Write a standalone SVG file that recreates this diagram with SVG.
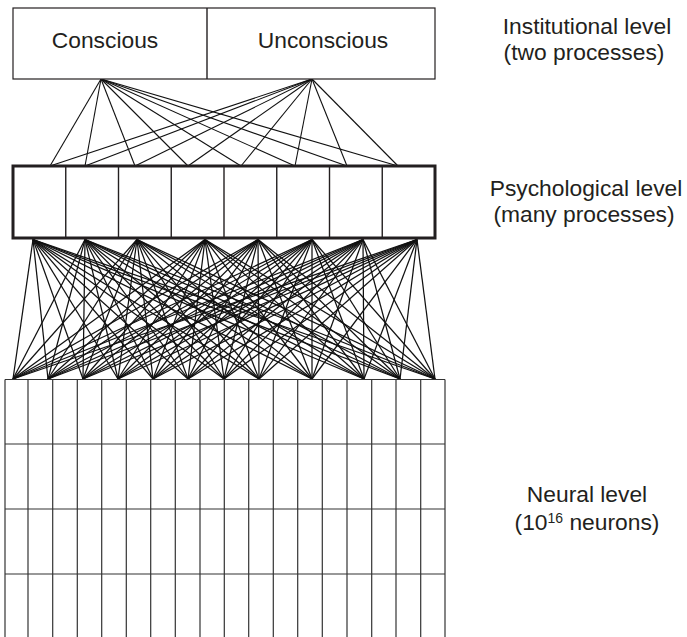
<svg xmlns="http://www.w3.org/2000/svg" width="687" height="637" viewBox="0 0 687 637">
<style>
text{font-family:"Liberation Sans",Arial,Helvetica,sans-serif;font-size:22.8px;fill:#231f20}
.lbl{text-anchor:middle}
.box{fill:#fff;stroke:#231f20;stroke-width:1.2}
.thick{fill:#fff;stroke:#231f20;stroke-width:3}
.div{stroke:#231f20;stroke-width:1.4}
.grid line{stroke:#333;stroke-width:1.2}
.conn line{stroke:#111;stroke-width:1.1}
.conn .low line{stroke-width:1.25}
</style>
<rect width="687" height="637" fill="#fff"/>

<g id="connectors" class="conn">
<g class="up">
<line x1="101" y1="79" x2="50" y2="166"/><line x1="101" y1="79" x2="85" y2="166"/><line x1="101" y1="79" x2="135" y2="166"/><line x1="101" y1="79" x2="188" y2="166"/><line x1="101" y1="79" x2="241" y2="166"/><line x1="101" y1="79" x2="295" y2="166"/><line x1="101" y1="79" x2="347" y2="166"/><line x1="101" y1="79" x2="398" y2="166"/>
<line x1="312" y1="79" x2="50" y2="166"/><line x1="312" y1="79" x2="85" y2="166"/><line x1="312" y1="79" x2="135" y2="166"/><line x1="312" y1="79" x2="188" y2="166"/><line x1="312" y1="79" x2="241" y2="166"/><line x1="312" y1="79" x2="295" y2="166"/><line x1="312" y1="79" x2="347" y2="166"/><line x1="312" y1="79" x2="398" y2="166"/>
</g>
<g class="low">
<line x1="33" y1="239.5" x2="13" y2="379"/><line x1="33" y1="239.5" x2="48" y2="379"/><line x1="33" y1="239.5" x2="83" y2="379"/><line x1="33" y1="239.5" x2="118" y2="379"/><line x1="33" y1="239.5" x2="153" y2="379"/><line x1="33" y1="239.5" x2="188" y2="379"/><line x1="33" y1="239.5" x2="224" y2="379"/><line x1="33" y1="239.5" x2="259" y2="379"/><line x1="33" y1="239.5" x2="312" y2="379"/><line x1="33" y1="239.5" x2="364" y2="379"/><line x1="33" y1="239.5" x2="400" y2="379"/><line x1="33" y1="239.5" x2="435" y2="379"/>
<line x1="85" y1="239.5" x2="13" y2="379"/><line x1="85" y1="239.5" x2="48" y2="379"/><line x1="85" y1="239.5" x2="83" y2="379"/><line x1="85" y1="239.5" x2="118" y2="379"/><line x1="85" y1="239.5" x2="153" y2="379"/><line x1="85" y1="239.5" x2="188" y2="379"/><line x1="85" y1="239.5" x2="224" y2="379"/><line x1="85" y1="239.5" x2="259" y2="379"/><line x1="85" y1="239.5" x2="312" y2="379"/><line x1="85" y1="239.5" x2="364" y2="379"/><line x1="85" y1="239.5" x2="400" y2="379"/><line x1="85" y1="239.5" x2="435" y2="379"/>
<line x1="137" y1="239.5" x2="13" y2="379"/><line x1="137" y1="239.5" x2="48" y2="379"/><line x1="137" y1="239.5" x2="83" y2="379"/><line x1="137" y1="239.5" x2="118" y2="379"/><line x1="137" y1="239.5" x2="153" y2="379"/><line x1="137" y1="239.5" x2="188" y2="379"/><line x1="137" y1="239.5" x2="224" y2="379"/><line x1="137" y1="239.5" x2="259" y2="379"/><line x1="137" y1="239.5" x2="312" y2="379"/><line x1="137" y1="239.5" x2="364" y2="379"/><line x1="137" y1="239.5" x2="400" y2="379"/><line x1="137" y1="239.5" x2="435" y2="379"/>
<line x1="205" y1="239.5" x2="13" y2="379"/><line x1="205" y1="239.5" x2="48" y2="379"/><line x1="205" y1="239.5" x2="83" y2="379"/><line x1="205" y1="239.5" x2="118" y2="379"/><line x1="205" y1="239.5" x2="153" y2="379"/><line x1="205" y1="239.5" x2="188" y2="379"/><line x1="205" y1="239.5" x2="224" y2="379"/><line x1="205" y1="239.5" x2="259" y2="379"/><line x1="205" y1="239.5" x2="312" y2="379"/><line x1="205" y1="239.5" x2="364" y2="379"/><line x1="205" y1="239.5" x2="400" y2="379"/><line x1="205" y1="239.5" x2="435" y2="379"/>
<line x1="258" y1="239.5" x2="13" y2="379"/><line x1="258" y1="239.5" x2="48" y2="379"/><line x1="258" y1="239.5" x2="83" y2="379"/><line x1="258" y1="239.5" x2="118" y2="379"/><line x1="258" y1="239.5" x2="153" y2="379"/><line x1="258" y1="239.5" x2="188" y2="379"/><line x1="258" y1="239.5" x2="224" y2="379"/><line x1="258" y1="239.5" x2="259" y2="379"/><line x1="258" y1="239.5" x2="312" y2="379"/><line x1="258" y1="239.5" x2="364" y2="379"/><line x1="258" y1="239.5" x2="400" y2="379"/><line x1="258" y1="239.5" x2="435" y2="379"/>
<line x1="312" y1="239.5" x2="13" y2="379"/><line x1="312" y1="239.5" x2="48" y2="379"/><line x1="312" y1="239.5" x2="83" y2="379"/><line x1="312" y1="239.5" x2="118" y2="379"/><line x1="312" y1="239.5" x2="153" y2="379"/><line x1="312" y1="239.5" x2="188" y2="379"/><line x1="312" y1="239.5" x2="224" y2="379"/><line x1="312" y1="239.5" x2="259" y2="379"/><line x1="312" y1="239.5" x2="312" y2="379"/><line x1="312" y1="239.5" x2="364" y2="379"/><line x1="312" y1="239.5" x2="400" y2="379"/><line x1="312" y1="239.5" x2="435" y2="379"/>
<line x1="363" y1="239.5" x2="13" y2="379"/><line x1="363" y1="239.5" x2="48" y2="379"/><line x1="363" y1="239.5" x2="83" y2="379"/><line x1="363" y1="239.5" x2="118" y2="379"/><line x1="363" y1="239.5" x2="153" y2="379"/><line x1="363" y1="239.5" x2="188" y2="379"/><line x1="363" y1="239.5" x2="224" y2="379"/><line x1="363" y1="239.5" x2="259" y2="379"/><line x1="363" y1="239.5" x2="312" y2="379"/><line x1="363" y1="239.5" x2="364" y2="379"/><line x1="363" y1="239.5" x2="400" y2="379"/><line x1="363" y1="239.5" x2="435" y2="379"/>
<line x1="417" y1="239.5" x2="13" y2="379"/><line x1="417" y1="239.5" x2="48" y2="379"/><line x1="417" y1="239.5" x2="83" y2="379"/><line x1="417" y1="239.5" x2="118" y2="379"/><line x1="417" y1="239.5" x2="153" y2="379"/><line x1="417" y1="239.5" x2="188" y2="379"/><line x1="417" y1="239.5" x2="224" y2="379"/><line x1="417" y1="239.5" x2="259" y2="379"/><line x1="417" y1="239.5" x2="312" y2="379"/><line x1="417" y1="239.5" x2="364" y2="379"/><line x1="417" y1="239.5" x2="400" y2="379"/><line x1="417" y1="239.5" x2="435" y2="379"/>
</g>
</g>

<g id="institutional">
<rect class="box" x="13" y="8" width="422" height="71"/>
<line class="div" x1="207" y1="8" x2="207" y2="79"/>
<text class="lbl" x="105" y="48">Conscious</text>
<text class="lbl" x="323" y="48">Unconscious</text>
</g>

<g id="psychological">
<rect class="thick" x="13" y="166" width="422" height="72"/>
<line class="div" x1="65.75" y1="166" x2="65.75" y2="238"/>
<line class="div" x1="118.5" y1="166" x2="118.5" y2="238"/>
<line class="div" x1="171.25" y1="166" x2="171.25" y2="238"/>
<line class="div" x1="224" y1="166" x2="224" y2="238"/>
<line class="div" x1="276.75" y1="166" x2="276.75" y2="238"/>
<line class="div" x1="329.5" y1="166" x2="329.5" y2="238"/>
<line class="div" x1="382.25" y1="166" x2="382.25" y2="238"/>
</g>

<g id="neural" class="grid">
<line x1="5" y1="379.5" x2="445" y2="379.5"/>
<line x1="5" y1="444" x2="445" y2="444"/>
<line x1="5" y1="509" x2="445" y2="509"/>
<line x1="5" y1="574" x2="445" y2="574"/>
<line x1="5" y1="379.5" x2="5" y2="637"/>
<line x1="28" y1="379.5" x2="28" y2="637"/>
<line x1="52.7" y1="379.5" x2="52.7" y2="637"/>
<line x1="77.3" y1="379.5" x2="77.3" y2="637"/>
<line x1="101.7" y1="379.5" x2="101.7" y2="637"/>
<line x1="126.3" y1="379.5" x2="126.3" y2="637"/>
<line x1="150.7" y1="379.5" x2="150.7" y2="637"/>
<line x1="175.3" y1="379.5" x2="175.3" y2="637"/>
<line x1="200" y1="379.5" x2="200" y2="637"/>
<line x1="224.3" y1="379.5" x2="224.3" y2="637"/>
<line x1="248.7" y1="379.5" x2="248.7" y2="637"/>
<line x1="273.3" y1="379.5" x2="273.3" y2="637"/>
<line x1="297.7" y1="379.5" x2="297.7" y2="637"/>
<line x1="322.3" y1="379.5" x2="322.3" y2="637"/>
<line x1="347" y1="379.5" x2="347" y2="637"/>
<line x1="371.7" y1="379.5" x2="371.7" y2="637"/>
<line x1="396" y1="379.5" x2="396" y2="637"/>
<line x1="420.7" y1="379.5" x2="420.7" y2="637"/>
<line x1="445" y1="379.5" x2="445" y2="637"/>
</g>

<g id="label-institutional">
<text class="lbl" x="587" y="34">Institutional level</text>
<text class="lbl" x="584" y="60">(two processes)</text>
</g>
<g id="label-psychological">
<text class="lbl" x="586" y="196">Psychological level</text>
<text class="lbl" x="584" y="222">(many processes)</text>
</g>
<g id="label-neural">
<text class="lbl" x="587" y="502">Neural level</text>
<text class="lbl" x="587" y="530">(10<tspan font-size="14" dy="-7.5">16</tspan><tspan dy="7.5"> neurons)</tspan></text>
</g>
</svg>
